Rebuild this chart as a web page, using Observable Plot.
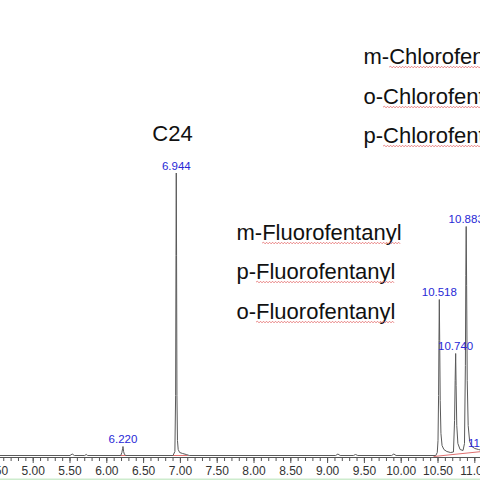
<!DOCTYPE html>
<html><head><meta charset="utf-8">
<script src="https://cdn.jsdelivr.net/npm/d3@7"></script>
<script src="https://cdn.jsdelivr.net/npm/@observablehq/plot@0.6"></script>
<style>body{margin:0;background:#fff;overflow:hidden} svg{display:block}</style>
</head><body><div id="chart"></div>
<script>
// Chromatogram trace (retention time, min) and detector response (arbitrary units)
const traceTime = [4.50, 5.50, 5.53, 5.56, 5.70, 5.72, 5.74, 6.19, 6.205, 6.215, 6.220, 6.228, 6.24, 6.26,
  6.90, 6.925, 6.935, 6.940, 6.944, 6.948, 6.953, 6.96, 6.97, 6.99, 7.03, 7.08, 7.12,
  9.11, 9.14, 9.17, 9.35, 9.38, 9.41, 9.87, 9.90, 9.93,
  10.47, 10.49, 10.50, 10.508, 10.513, 10.518, 10.523, 10.53, 10.54, 10.555, 10.58, 10.62, 10.67, 10.71,
  10.725, 10.733, 10.740, 10.746, 10.755, 10.77, 10.80, 10.84, 10.86,
  10.872, 10.878, 10.883, 10.889, 10.897, 10.91, 10.93, 10.96, 11.00, 11.05, 11.10, 11.13, 11.14, 11.15, 11.20];
const traceIntensity = [0, 0, 1.5, 0, 0, 1, 0, 0, 3, 7, 9, 4, 1, 0,
  0, 4, 60, 200, 282.5, 200, 60, 15, 6, 3, 2, 1, 0,
  0, 1.5, 0, 0, 1, 0, 0, 1.5, 0,
  0, 3, 15, 60, 115, 156, 115, 55, 22, 10, 6, 4, 3, 3.5,
  35, 75, 102, 70, 30, 12, 6, 5, 12,
  90, 180, 229, 170, 75, 30, 14, 9, 7, 6, 5, 4, 5, 4, 3];

const peakTimes = [6.220, 6.944, 10.518, 10.740, 10.883, 11.140];
const peakLabels = ["6.220", "6.944", "10.518", "10.740", "10.883", "11.140"];
const peakHeights = [9, 282.5, 156, 102, 229, 5];

// integration baselines
const baseStart = [6.13, 6.88, 10.44];
const baseEnd = [6.32, 7.10, 11.10];
const baseStartH = [0, 0, -1];
const baseEndH = [0, 0, 4];

const tickMajor = [4.5, 5.0, 5.5, 6.0, 6.5, 7.0, 7.5, 8.0, 8.5, 9.0, 9.5, 10.0, 10.5, 11.0];
const tickMinor = d3.range(45, 112).map(d => d / 10);

const annoText = ["C24", "m-Fluorofentanyl", "p-Fluorofentanyl", "o-Fluorofentanyl",
  "m-Chlorofentanyl", "o-Chlorofentanyl", "p-Chlorofentanyl"];
const annoTime = [6.893, 7.762, 7.762, 7.762, 9.488, 9.488, 9.488];
const annoHeight = [322, 223, 184, 144, 399, 359, 320];
const annoAnchor = ["middle", "start", "start", "start", "start", "start", "start"];

const trace = traceTime.map((t, i) => ({t, v: traceIntensity[i]}));
const peaks = peakTimes.map((t, i) => ({t, v: peakHeights[i], label: peakLabels[i]}));
const bases = baseStart.map((t, i) => ({t1: t, t2: baseEnd[i], v1: baseStartH[i], v2: baseEndH[i]}));
const annos = annoText.map((s, i) => ({s, t: annoTime[i], v: annoHeight[i], a: annoAnchor[i]}));

const font = "'Liberation Sans', Arial, sans-serif";

const chart = Plot.plot({
  width: 480, height: 480,
  marginTop: 0, marginLeft: 0, marginRight: 0, marginBottom: 23,
  style: {fontFamily: font, background: "#fff", overflow: "hidden"},
  x: {domain: [4.5557, 11.0774]},
  y: {domain: [-2, 455], axis: null},
  marks: [
    Plot.ruleY([-24], {stroke: "#cdeccd", strokeWidth: 2}),
    Plot.link(bases, {x1: "t1", x2: "t2", y1: "v1", y2: "v2", stroke: "#e07070", strokeWidth: 1, clip: true}),
    Plot.line(trace, {x: "t", y: "v", stroke: "#5a5a5a", strokeWidth: 1, clip: true}),
    Plot.ruleY([-2], {stroke: "#555", strokeWidth: 1}),
    Plot.axisX({ticks: tickMinor, tickSize: 4, text: null, stroke: "#555"}),
    Plot.axisX({ticks: tickMajor, tickSize: 6, tickPadding: 3, tickFormat: d3.format(".2f"),
      fontSize: 12, fill: "#333", stroke: "#555"}),
    Plot.text(peaks, {x: "t", y: "v", text: "label", dy: -7, fill: "#2828d6", fontSize: 11.5}),
    Plot.text(annos, {x: "t", y: "v", text: "s", textAnchor: "start", fontSize: 22, fill: "#111",
      filter: d => d.a === "start"}),
    Plot.text(annos, {x: "t", y: "v", text: "s", textAnchor: "middle", fontSize: 22, fill: "#111",
      filter: d => d.a === "middle"})
  ]
});

document.getElementById("chart").appendChild(chart);

// spell-check style wavy red underline under the compound stem
d3.select(chart).selectAll("text").each(function() {
  const m = this.textContent.match(/^([mop]-)(Fluorofentanyl|Chlorofentanyl)$/);
  if (!m) return;
  const n = this.getNumberOfChars();
  const p0 = this.getStartPositionOfChar(m[1].length);
  const p1 = this.getEndPositionOfChar(n - 1);
  const y = p0.y + 3.5;
  let d = `M${p0.x},${y}`;
  let up = true;
  for (let x = p0.x + 1.5; x <= p1.x; x += 1.5) {
    d += `L${x},${y + (up ? -0.8 : 0.8)}`;
    up = !up;
  }
  const path = document.createElementNS("http://www.w3.org/2000/svg", "path");
  path.setAttribute("d", d);
  path.setAttribute("fill", "none");
  path.setAttribute("stroke", "#e46a6a");
  path.setAttribute("stroke-width", "0.8");
  const tr = this.getAttribute("transform");
  if (tr) path.setAttribute("transform", tr);
  this.parentNode.appendChild(path);
});
</script></body></html>
